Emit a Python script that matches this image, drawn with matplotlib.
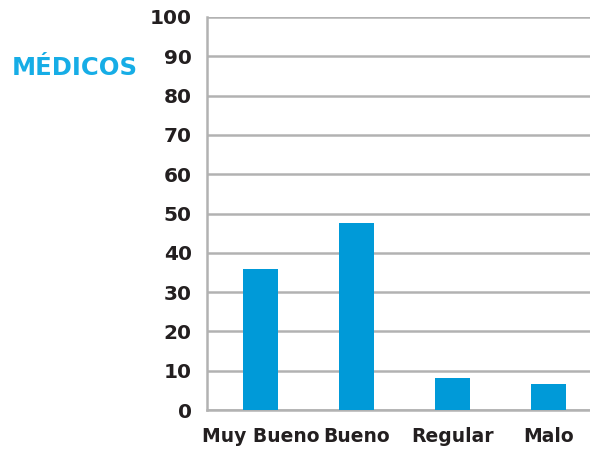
import matplotlib
matplotlib.use("Agg")
import matplotlib.pyplot as plt

categories = ["Muy Bueno", "Bueno", "Regular", "Malo"]
values = [36, 47.6, 8.1, 6.6]
yticks = list(range(0, 101, 10))

fig = plt.figure(figsize=(5.9, 4.49), dpi=100)
ax = fig.add_axes([207/590, 1 - 410/449, 383/590, 393/449])

ax.bar(range(len(categories)), values, width=0.365, color="#009ad8", zorder=3)
ax.set_ylim(0, 100)
ax.set_xlim(-0.557, 3.43)
ax.set_yticks(yticks)
ax.set_xticks(range(len(categories)))
ax.set_xticklabels(categories)
ax.grid(axis="y", color="#b2b2b2", linewidth=1.8, zorder=0)
ax.tick_params(axis="both", length=0, colors="#231f20")
ax.tick_params(axis="y", pad=11, labelsize=14.5)
ax.tick_params(axis="x", pad=12, labelsize=13.5)
for lab in ax.get_xticklabels() + ax.get_yticklabels():
    lab.set_fontweight("bold")
for s in ["top", "right"]:
    ax.spines[s].set_visible(False)
for s in ["left", "bottom"]:
    ax.spines[s].set_color("#b2b2b2")
    ax.spines[s].set_linewidth(1.8)

fig.text(12/590, 1 - 68/449, "MÉDICOS", color="#16ade6", fontsize=17.5,
         fontweight="bold", ha="left", va="center")

fig.savefig("out.png", dpi=100)
